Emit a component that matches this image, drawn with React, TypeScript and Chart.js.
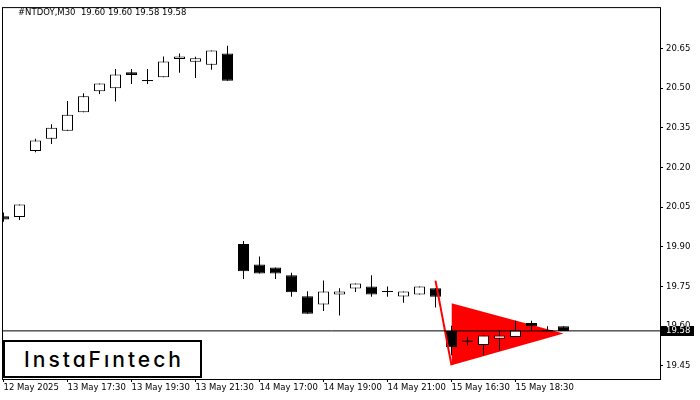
import React, { useEffect, useRef } from "react";
import { Chart, registerables } from "chart.js";

Chart.register(...registerables);

// ---- data (M30 candles, index = bar number) ----
const opens = [20.016, 20.013, 20.262, 20.309, 20.339, 20.409, 20.488, 20.5, 20.56, 20.529, 20.541, 20.61, 20.6, 20.589, 20.631,
  19.911, 19.833, 19.822, 19.792, 19.713, 19.682, 19.72, 19.742, 19.75, 19.731, 19.712, 19.72, 19.743,
  19.582, 19.543, 19.529, 19.552, 19.559, 19.612, 19.583, 19.6];
const highs = [20.03, 20.06, 20.309, 20.364, 20.452, 20.481, 20.518, 20.573, 20.573, 20.573, 20.62, 20.631, 20.619, 20.643, 20.661,
  19.922, 19.863, 19.822, 19.802, 19.732, 19.773, 19.743, 19.761, 19.792, 19.75, 19.731, 19.75, 19.743,
  19.601, 19.56, 19.565, 19.583, 19.62, 19.62, 19.6, 19.6];
const lows = [19.995, 20.001, 20.258, 20.289, 20.339, 20.409, 20.478, 20.45, 20.516, 20.516, 20.541, 20.558, 20.539, 20.57, 20.528,
  19.778, 19.799, 19.778, 19.711, 19.647, 19.657, 19.64, 19.729, 19.711, 19.711, 19.688, 19.72, 19.67,
  19.49, 19.527, 19.49, 19.508, 19.559, 19.582, 19.582, 19.582];
const closes = [20.003, 20.06, 20.302, 20.35, 20.4, 20.47, 20.518, 20.552, 20.55, 20.529, 20.601, 20.62, 20.613, 20.643, 20.528,
  19.808, 19.799, 19.799, 19.728, 19.647, 19.731, 19.731, 19.761, 19.72, 19.731, 19.731, 19.75, 19.711,
  19.52, 19.543, 19.565, 19.565, 19.583, 19.6, 19.583, 19.582];

const timeLabels = ["12 May 2025", "13 May 17:30", "13 May 19:30", "13 May 21:30", "14 May 17:00",
  "14 May 19:00", "14 May 21:00", "15 May 16:30", "15 May 18:30"];
const timeTickBars = [0, 4, 8, 12, 16, 20, 24, 28, 32];
const priceTicks = [19.45, 19.6, 19.75, 19.9, 20.05, 20.2, 20.35, 20.5, 20.65];

// bearish pennant pattern
const poleBars = [27, 28];
const polePrices = [19.772, 19.452];
const pennantBars = [28, 35];
const pennantUpper = [19.687, 19.572];
const pennantLower = [19.452, 19.572];

const headerText = "#NTDOY,M30  19.60 19.60 19.58 19.58";

const X_MIN = -1 / 32;
const X_MAX = X_MIN + 657 / 16;
const Y_MIN = 19.4;
const Y_MAX = 20.803;
const FONT = { family: "'DejaVu Sans'", size: 8.5 };

export default function App() {
  const ref = useRef<HTMLCanvasElement | null>(null);

  useEffect(() => {
    if (!ref.current) return;
    const last = closes[closes.length - 1];
    const idx = closes.map((_, i) => i);

    const wicks = idx.map((i) => ({ x: i, y: [lows[i], highs[i]] }));
    const bodies = idx.map((i) => {
      const lo = Math.min(opens[i], closes[i]);
      const hi = Math.max(opens[i], closes[i]);
      if (hi - lo < 0.003) {
        const m = (hi + lo) / 2;
        return { x: i, y: [m - 0.0019, m + 0.0019] };
      }
      return { x: i, y: [lo, hi] };
    });
    const bodyColors = idx.map((i) => {
      const d = closes[i] - opens[i];
      if (Math.abs(d) < 0.003) return "#000000";
      return d > 0 ? "#ffffff" : "#000000";
    });
    const bodyBorders = idx.map((i) => (Math.abs(closes[i] - opens[i]) < 0.003 ? 0 : 1));

    const overlay = {
      id: "overlay",
      afterDraw(chart: any) {
        const { ctx, chartArea: a, scales } = chart;
        ctx.save();
        ctx.strokeStyle = "#000";
        ctx.lineWidth = 1;
        ctx.strokeRect(a.left - 0.5, a.top - 0.5, a.right - a.left + 1, a.bottom - a.top + 1);
        const y = scales.y.getPixelForValue(last);
        ctx.fillStyle = "#000";
        ctx.fillRect(a.right + 1, Math.round(y) - 5, 33, 10);
        ctx.fillStyle = "#fff";
        ctx.font = "8.5px 'DejaVu Sans'";
        ctx.textBaseline = "middle";
        ctx.textAlign = "left";
        ctx.fillText(last.toFixed(2), a.right + 6, y);
        ctx.fillStyle = "#000";
        ctx.textBaseline = "alphabetic";
        ctx.fillText(headerText, 18, 15);
        ctx.restore();
      },
    };

    const chart = new Chart(ref.current, {
      type: "bar",
      data: {
        datasets: [
          {
            type: "line",
            data: pennantBars.map((b, i) => ({ x: b, y: pennantUpper[i] })),
            borderWidth: 0,
            borderColor: "#ff0000",
            backgroundColor: "#ff0000",
            pointRadius: 0,
            fill: false,
            order: 10,
          } as any,
          {
            type: "line",
            data: pennantBars.map((b, i) => ({ x: b, y: pennantLower[i] })),
            borderWidth: 0,
            borderColor: "#ff0000",
            backgroundColor: "#ff0000",
            pointRadius: 0,
            fill: 0,
            order: 9,
          } as any,
          {
            type: "bar",
            data: wicks,
            backgroundColor: "#000000",
            borderWidth: 0,
            barThickness: 1,
            grouped: false,
            inflateAmount: 0,
            order: 5,
          } as any,
          {
            type: "bar",
            data: bodies,
            backgroundColor: bodyColors,
            borderColor: "#000000",
            borderWidth: bodyBorders,
            borderSkipped: false,
            barThickness: 11,
            grouped: false,
            inflateAmount: 0,
            order: 4,
          } as any,
          {
            type: "line",
            data: poleBars.map((b, i) => ({ x: b, y: polePrices[i] })),
            borderWidth: 2,
            borderColor: "#ff0000",
            pointRadius: 0,
            fill: false,
            order: 2,
          } as any,
          {
            type: "line",
            data: [{ x: X_MIN, y: last }, { x: X_MAX, y: last }],
            borderWidth: 1,
            borderColor: "#000000",
            pointRadius: 0,
            fill: false,
            order: 1,
          } as any,
        ],
      },
      options: {
        responsive: false,
        animation: false,
        devicePixelRatio: 1,
        layout: { padding: { left: 3, top: 3, right: 0, bottom: 0 } },
        plugins: { legend: { display: false }, tooltip: { enabled: false } },
        scales: {
          x: {
            type: "linear",
            position: "bottom",
            min: X_MIN,
            max: X_MAX,
            offset: false,
            grid: { display: true, drawOnChartArea: false, drawTicks: true, tickLength: 3, color: "#000", offset: false },
            border: { display: true, color: "#000" },
            ticks: {
              align: "start",
              maxRotation: 0,
              autoSkip: false,
              padding: 1,
              color: "#000",
              font: FONT,
              callback: (_v: any, i: number) => timeLabels[i],
            },
            afterBuildTicks: (s: any) => {
              s.ticks = timeTickBars.map((v) => ({ value: v }));
            },
            afterFit: (s: any) => {
              s.height = 21;
            },
          } as any,
          y: {
            type: "linear",
            position: "right",
            min: Y_MIN,
            max: Y_MAX,
            beginAtZero: false,
            grid: { display: true, drawOnChartArea: false, drawTicks: true, tickLength: 3, color: "#000" },
            border: { display: true, color: "#000" },
            ticks: {
              padding: 3,
              color: "#000",
              font: FONT,
              callback: (v: any) => Number(v).toFixed(2),
            },
            afterBuildTicks: (s: any) => {
              s.ticks = priceTicks.map((v) => ({ value: v }));
            },
            afterFit: (s: any) => {
              s.width = 40;
            },
          } as any,
        },
      },
      plugins: [overlay],
    });
    return () => chart.destroy();
  }, []);

  return (
    <div style={{ position: "fixed", left: 0, top: 0, width: 700, height: 400, background: "#fff" }}>
      <canvas ref={ref} width={700} height={400} style={{ display: "block" }} />
      <div
        style={{
          position: "absolute",
          left: 3,
          top: 340,
          width: 199,
          height: 38,
          boxSizing: "border-box",
          border: "2px solid #000",
          background: "#fff",
          display: "flex",
          alignItems: "center",
          justifyContent: "center",
          fontFamily: "Inter, 'Noto Sans', sans-serif",
          fontWeight: 500,
          fontSize: 21,
          letterSpacing: 3,
          paddingLeft: 3,
          color: "#000",
          fontFeatureSettings: '"cv11"',
        }}
      >
        InstaFıntech
      </div>
    </div>
  );
}
